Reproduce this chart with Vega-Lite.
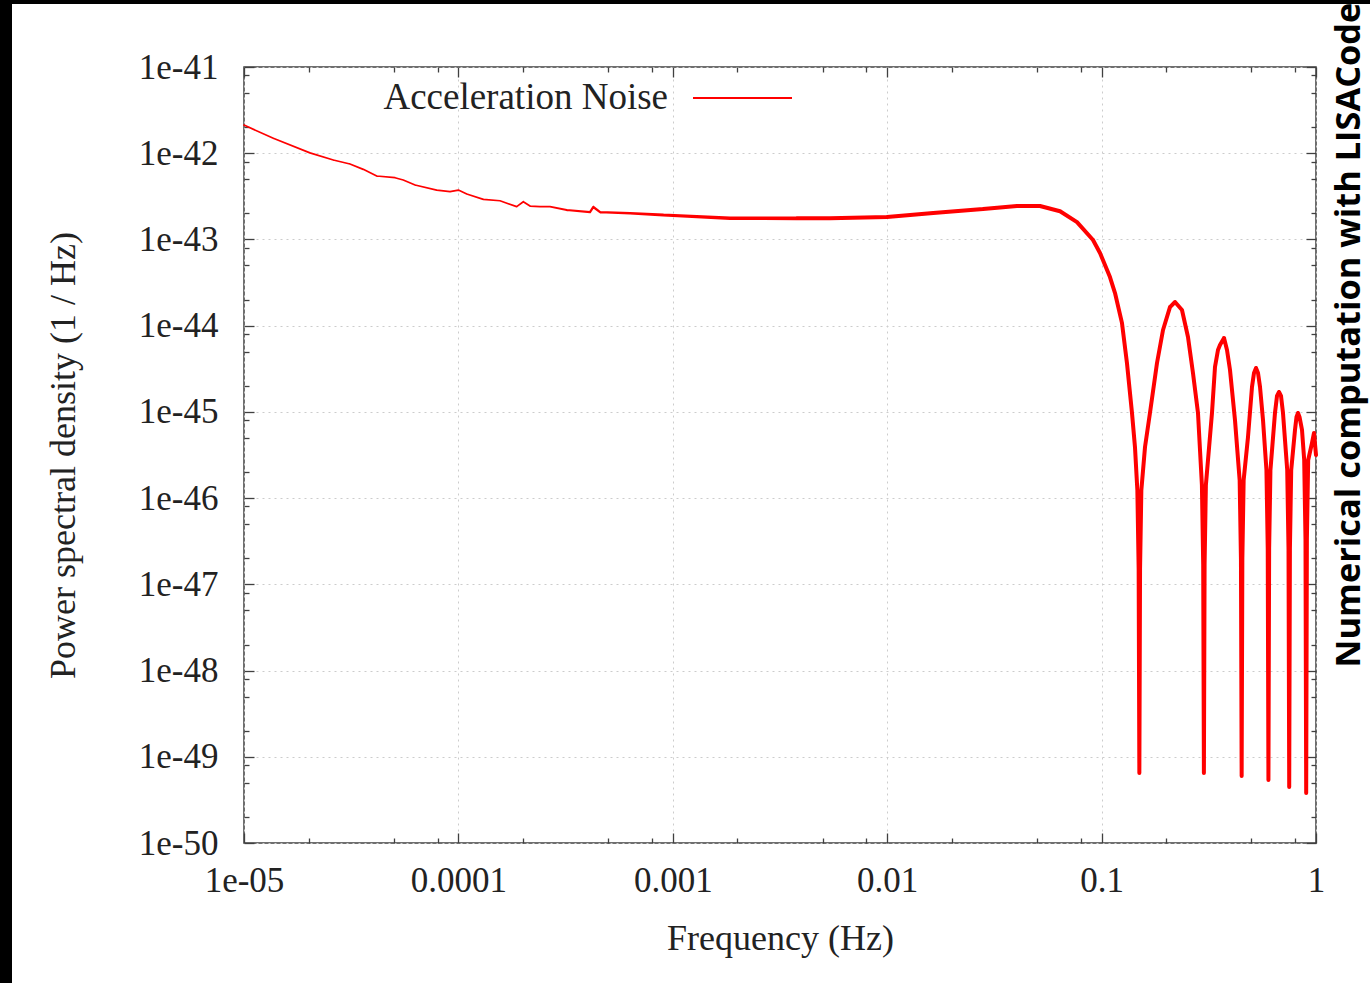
{
  "$schema": "https://vega.github.io/schema/vega-lite/v6.json",
  "padding": 0,
  "background": "white",
  "config": {
    "view": {"stroke": "#404040", "strokeWidth": 1.5},
    "axis": {
      "labelFont": "Liberation Serif",
      "labelFontSize": 35,
      "labelColor": "#222222",
      "titleFont": "Liberation Serif",
      "titleFontSize": 36,
      "titleFontWeight": "normal",
      "titleColor": "#222222",
      "tickColor": "#404040",
      "tickWidth": 1.3,
      "domain": false,
      "labelOverlap": false,
      "labelFlush": false,
      "labelBound": false,
      "gridDash": [2, 4],
      "gridWidth": 1
    }
  },
  "spacing": 0,
  "bounds": "flush",
  "hconcat": [
    {
      "width": 12,
      "height": 983,
      "view": {"fill": "#000000", "stroke": null},
      "data": {"values": []},
      "mark": "rect"
    },
    {
      "spacing": 63,
      "bounds": "flush",
      "vconcat": [
        {
          "width": 1358,
          "height": 4,
          "view": {"fill": "#000000", "stroke": null},
          "data": {"values": []},
          "mark": "rect"
        },
        {
          "spacing": 231,
          "bounds": "flush",
          "hconcat": [
            {
              "width": 1,
              "height": 1,
              "view": {"stroke": null},
              "data": {"values": []},
              "mark": "rect"
            },
            {
              "width": 1072,
              "height": 776,
              "title": {
                "text": "Numerical computation with LISACode",
                "orient": "right",
                "angle": 270,
                "anchor": "middle",
                "align": "center",
                "baseline": "alphabetic",
                "dx": 120,
                "offset": 1,
                "font": "Open Sans",
                "fontSize": 34.4,
                "fontWeight": "bold",
                "color": "#000000"
              },
              "data": {
                "values": [
                  {"f": 1e-5, "psd": 2.12e-42, "series": "Acceleration Noise"},
                  {"f": 1.37e-5, "psd": 1.49e-42, "series": "Acceleration Noise"},
                  {"f": 2.03e-5, "psd": 1.01e-42, "series": "Acceleration Noise"},
                  {"f": 2.61e-5, "psd": 8.34e-43, "series": "Acceleration Noise"},
                  {"f": 3.12e-5, "psd": 7.5e-43, "series": "Acceleration Noise"},
                  {"f": 3.6e-5, "psd": 6.5e-43, "series": "Acceleration Noise"},
                  {"f": 4.16e-5, "psd": 5.44e-43, "series": "Acceleration Noise"},
                  {"f": 5.06e-5, "psd": 5.2e-43, "series": "Acceleration Noise"},
                  {"f": 5.53e-5, "psd": 4.89e-43, "series": "Acceleration Noise"},
                  {"f": 6.28e-5, "psd": 4.28e-43, "series": "Acceleration Noise"},
                  {"f": 7.92e-5, "psd": 3.74e-43, "series": "Acceleration Noise"},
                  {"f": 9.14e-5, "psd": 3.58e-43, "series": "Acceleration Noise"},
                  {"f": 1.0e-4, "psd": 3.74e-43, "series": "Acceleration Noise"},
                  {"f": 1.094e-4, "psd": 3.37e-43, "series": "Acceleration Noise"},
                  {"f": 1.307e-4, "psd": 2.92e-43, "series": "Acceleration Noise"},
                  {"f": 1.563e-4, "psd": 2.81e-43, "series": "Acceleration Noise"},
                  {"f": 1.87e-4, "psd": 2.4e-43, "series": "Acceleration Noise"},
                  {"f": 2.008e-4, "psd": 2.74e-43, "series": "Acceleration Noise"},
                  {"f": 2.158e-4, "psd": 2.44e-43, "series": "Acceleration Noise"},
                  {"f": 2.402e-4, "psd": 2.4e-43, "series": "Acceleration Noise"},
                  {"f": 2.674e-4, "psd": 2.4e-43, "series": "Acceleration Noise"},
                  {"f": 3.2e-4, "psd": 2.19e-43, "series": "Acceleration Noise"},
                  {"f": 4.11e-4, "psd": 2.08e-43, "series": "Acceleration Noise"},
                  {"f": 4.26e-4, "psd": 2.38e-43, "series": "Acceleration Noise"},
                  {"f": 4.58e-4, "psd": 2.07e-43, "series": "Acceleration Noise"},
                  {"f": 6.32e-4, "psd": 2.01e-43, "series": "Acceleration Noise"},
                  {"f": 9.03e-4, "psd": 1.92e-43, "series": "Acceleration Noise"},
                  {"f": 1.293e-3, "psd": 1.84e-43, "series": "Acceleration Noise"},
                  {"f": 1.849e-3, "psd": 1.76e-43, "series": "Acceleration Noise"},
                  {"f": 2.64e-3, "psd": 1.76e-43, "series": "Acceleration Noise"},
                  {"f": 3.78e-3, "psd": 1.76e-43, "series": "Acceleration Noise"},
                  {"f": 5.41e-3, "psd": 1.76e-43, "series": "Acceleration Noise"},
                  {"f": 9.98e-3, "psd": 1.82e-43, "series": "Acceleration Noise"},
                  {"f": 1.64e-2, "psd": 2.03e-43, "series": "Acceleration Noise"},
                  {"f": 2.8e-2, "psd": 2.25e-43, "series": "Acceleration Noise"},
                  {"f": 4.03e-2, "psd": 2.44e-43, "series": "Acceleration Noise"},
                  {"f": 5.16e-2, "psd": 2.44e-43, "series": "Acceleration Noise"},
                  {"f": 6.4e-2, "psd": 2.12e-43, "series": "Acceleration Noise"},
                  {"f": 7.68e-2, "psd": 1.59e-43, "series": "Acceleration Noise"},
                  {"f": 9.12e-2, "psd": 9.86e-44, "series": "Acceleration Noise"},
                  {"f": 9.83e-2, "psd": 6.97e-44, "series": "Acceleration Noise"},
                  {"f": 0.1094, "psd": 3.66e-44, "series": "Acceleration Noise"},
                  {"f": 0.1155, "psd": 2.39e-44, "series": "Acceleration Noise"},
                  {"f": 0.1245, "psd": 1.07e-44, "series": "Acceleration Noise"},
                  {"f": 0.1313, "psd": 3.69e-45, "series": "Acceleration Noise"},
                  {"f": 0.1386, "psd": 9.7e-46, "series": "Acceleration Noise"},
                  {"f": 0.1431, "psd": 3.92e-46, "series": "Acceleration Noise"},
                  {"f": 0.14681, "psd": 1.24e-46, "series": "Acceleration Noise"},
                  {"f": 0.14888, "psd": 1.51e-47, "series": "Acceleration Noise"},
                  {"f": 0.15, "psd": 6.49e-50, "series": "Acceleration Noise"},
                  {"f": 0.15113, "psd": 1.51e-47, "series": "Acceleration Noise"},
                  {"f": 0.15326, "psd": 1.24e-46, "series": "Acceleration Noise"},
                  {"f": 0.1594, "psd": 3.92e-46, "series": "Acceleration Noise"},
                  {"f": 0.1681, "psd": 9.7e-46, "series": "Acceleration Noise"},
                  {"f": 0.1813, "psd": 3.69e-45, "series": "Acceleration Noise"},
                  {"f": 0.1934, "psd": 8.91e-45, "series": "Acceleration Noise"},
                  {"f": 0.2084, "psd": 1.64e-44, "series": "Acceleration Noise"},
                  {"f": 0.22, "psd": 1.88e-44, "series": "Acceleration Noise"},
                  {"f": 0.2371, "psd": 1.52e-44, "series": "Acceleration Noise"},
                  {"f": 0.2529, "psd": 7.38e-45, "series": "Acceleration Noise"},
                  {"f": 0.2668, "psd": 2.82e-45, "series": "Acceleration Noise"},
                  {"f": 0.2816, "psd": 9.7e-46, "series": "Acceleration Noise"},
                  {"f": 0.29363, "psd": 1.42e-46, "series": "Acceleration Noise"},
                  {"f": 0.29775, "psd": 1.72e-47, "series": "Acceleration Noise"},
                  {"f": 0.3, "psd": 6.49e-50, "series": "Acceleration Noise"},
                  {"f": 0.30227, "psd": 1.72e-47, "series": "Acceleration Noise"},
                  {"f": 0.30651, "psd": 1.42e-46, "series": "Acceleration Noise"},
                  {"f": 0.3272, "psd": 9.7e-46, "series": "Acceleration Noise"},
                  {"f": 0.338, "psd": 3.32e-45, "series": "Acceleration Noise"},
                  {"f": 0.349, "psd": 5.22e-45, "series": "Acceleration Noise"},
                  {"f": 0.3566, "psd": 5.97e-45, "series": "Acceleration Noise"},
                  {"f": 0.3724, "psd": 7.19e-45, "series": "Acceleration Noise"},
                  {"f": 0.3845, "psd": 5.22e-45, "series": "Acceleration Noise"},
                  {"f": 0.3971, "psd": 3.06e-45, "series": "Acceleration Noise"},
                  {"f": 0.4189, "psd": 8.05e-46, "series": "Acceleration Noise"},
                  {"f": 0.44044, "psd": 1.62e-46, "series": "Acceleration Noise"},
                  {"f": 0.44663, "psd": 1.97e-47, "series": "Acceleration Noise"},
                  {"f": 0.45, "psd": 5.98e-50, "series": "Acceleration Noise"},
                  {"f": 0.4534, "psd": 1.97e-47, "series": "Acceleration Noise"},
                  {"f": 0.45977, "psd": 1.62e-46, "series": "Acceleration Noise"},
                  {"f": 0.4818, "psd": 5.12e-46, "series": "Acceleration Noise"},
                  {"f": 0.5029, "psd": 1.95e-45, "series": "Acceleration Noise"},
                  {"f": 0.5138, "psd": 2.82e-45, "series": "Acceleration Noise"},
                  {"f": 0.525, "psd": 3.23e-45, "series": "Acceleration Noise"},
                  {"f": 0.5365, "psd": 2.82e-45, "series": "Acceleration Noise"},
                  {"f": 0.5481, "psd": 1.95e-45, "series": "Acceleration Noise"},
                  {"f": 0.566, "psd": 8.05e-46, "series": "Acceleration Noise"},
                  {"f": 0.58725, "psd": 2.12e-46, "series": "Acceleration Noise"},
                  {"f": 0.59551, "psd": 2.57e-47, "series": "Acceleration Noise"},
                  {"f": 0.6, "psd": 5.37e-50, "series": "Acceleration Noise"},
                  {"f": 0.60453, "psd": 2.57e-47, "series": "Acceleration Noise"},
                  {"f": 0.61303, "psd": 2.12e-46, "series": "Acceleration Noise"},
                  {"f": 0.6437, "psd": 9.7e-46, "series": "Acceleration Noise"},
                  {"f": 0.6578, "psd": 1.53e-45, "series": "Acceleration Noise"},
                  {"f": 0.6721, "psd": 1.7e-45, "series": "Acceleration Noise"},
                  {"f": 0.6868, "psd": 1.53e-45, "series": "Acceleration Noise"},
                  {"f": 0.7016, "psd": 9.7e-46, "series": "Acceleration Noise"},
                  {"f": 0.73406, "psd": 2.12e-46, "series": "Acceleration Noise"},
                  {"f": 0.74438, "psd": 2.57e-47, "series": "Acceleration Noise"},
                  {"f": 0.75, "psd": 4.46e-50, "series": "Acceleration Noise"},
                  {"f": 0.75566, "psd": 2.57e-47, "series": "Acceleration Noise"},
                  {"f": 0.76628, "psd": 2.12e-46, "series": "Acceleration Noise"},
                  {"f": 0.798, "psd": 6.17e-46, "series": "Acceleration Noise"},
                  {"f": 0.811, "psd": 8.73e-46, "series": "Acceleration Noise"},
                  {"f": 0.8242, "psd": 9.7e-46, "series": "Acceleration Noise"},
                  {"f": 0.8377, "psd": 8.73e-46, "series": "Acceleration Noise"},
                  {"f": 0.8604, "psd": 6.17e-46, "series": "Acceleration Noise"},
                  {"f": 0.88088, "psd": 2.77e-46, "series": "Acceleration Noise"},
                  {"f": 0.89326, "psd": 3.36e-47, "series": "Acceleration Noise"},
                  {"f": 0.9, "psd": 3.8e-50, "series": "Acceleration Noise"},
                  {"f": 0.9068, "psd": 3.36e-47, "series": "Acceleration Noise"},
                  {"f": 0.91954, "psd": 2.77e-46, "series": "Acceleration Noise"},
                  {"f": 0.958, "psd": 4.36e-46, "series": "Acceleration Noise"},
                  {"f": 0.9787, "psd": 5.69e-46, "series": "Acceleration Noise"},
                  {"f": 1.0, "psd": 3.16e-46, "series": "Acceleration Noise"}
                ]
              },
              "layer": [
                {
                  "mark": {"type": "trail"},
                  "encoding": {
                    "x": {
                      "field": "f",
                      "type": "quantitative",
                      "scale": {"type": "log", "domain": [1e-5, 1], "nice": false},
                      "axis": {
                        "orient": "bottom",
                        "values": [1e-5, 2e-5, 5e-5, 8e-5, 1e-4, 2e-4, 5e-4, 8e-4, 0.001, 0.002, 0.005, 0.008, 0.01, 0.02, 0.05, 0.08, 0.1, 0.2, 0.5, 0.8, 1],
                        "labelExpr": "abs(log(datum.value)/LN10 - round(log(datum.value)/LN10)) < 1e-6 ? (datum.value < 5e-5 ? '1e-05' : format(datum.value, '')) : ''",
                        "tickSize": {"condition": {"test": "abs(log(datum.value)/LN10 - round(log(datum.value)/LN10)) < 1e-6", "value": -10}, "value": -5},
                        "labelPadding": 30,
                        "grid": true,
                        "gridColor": {"condition": {"test": "abs(log(datum.value)/LN10 - round(log(datum.value)/LN10)) < 1e-6", "value": "#cccccc"}, "value": "transparent"},
                        "title": "Frequency (Hz)",
                        "titlePadding": 18
                      }
                    },
                    "y": {
                      "field": "psd",
                      "type": "quantitative",
                      "scale": {"type": "log", "domain": [1e-50, 1e-41], "nice": false},
                      "axis": {
                        "orient": "left",
                        "values": [1e-50, 2e-50, 5e-50, 8e-50, 1e-49, 2e-49, 5e-49, 8e-49, 1e-48, 2e-48, 5e-48, 8e-48, 1e-47, 2e-47, 5e-47, 8e-47, 1e-46, 2e-46, 5e-46, 8e-46, 1e-45, 2e-45, 5e-45, 8e-45, 1e-44, 2e-44, 5e-44, 8e-44, 1e-43, 2e-43, 5e-43, 8e-43, 1e-42, 2e-42, 5e-42, 8e-42, 1e-41],
                        "labelExpr": "abs(log(datum.value)/LN10 - round(log(datum.value)/LN10)) < 1e-6 ? '1e' + round(log(datum.value)/LN10) : ''",
                        "tickSize": {"condition": {"test": "abs(log(datum.value)/LN10 - round(log(datum.value)/LN10)) < 1e-6", "value": -10}, "value": -5},
                        "labelPadding": 36,
                        "grid": true,
                        "gridColor": {"condition": {"test": "abs(log(datum.value)/LN10 - round(log(datum.value)/LN10)) < 1e-6", "value": "#cccccc"}, "value": "transparent"},
                        "title": "Power spectral density (1 / Hz)",
                        "titlePadding": 56
                      }
                    },
                    "color": {
                      "field": "series",
                      "type": "nominal",
                      "scale": {"range": ["#ff0000"]},
                      "legend": {
                        "orient": "none",
                        "legendX": 692,
                        "legendY": 47.5,
                        "title": null,
                        "padding": 0,
                        "symbolType": "stroke",
                        "symbolSize": 9800,
                        "symbolStrokeWidth": 2,
                        "symbolStrokeColor": "#ff0000",
                        "labelFont": "Liberation Serif",
                        "labelFontSize": 37,
                        "labelColor": "#222222",
                        "labelAlign": "right",
                        "labelOffset": -125,
                        "labelLimit": 600
                      }
                    },
                    "size": {
                      "field": "f",
                      "type": "quantitative",
                      "scale": {"type": "log", "domain": [0.0002, 0.004], "range": [1.7, 4], "clamp": true},
                      "legend": null
                    }
                  }
                },
                {
                  "mark": {"type": "line", "strokeOpacity": 0},
                  "encoding": {
                    "x": {
                      "field": "f",
                      "type": "quantitative",
                      "scale": {"type": "log", "domain": [1e-5, 1], "nice": false},
                      "axis": {
                        "orient": "top",
                        "values": [1e-5, 2e-5, 5e-5, 8e-5, 1e-4, 2e-4, 5e-4, 8e-4, 0.001, 0.002, 0.005, 0.008, 0.01, 0.02, 0.05, 0.08, 0.1, 0.2, 0.5, 0.8, 1],
                        "labels": false,
                        "grid": false,
                        "title": null,
                        "tickSize": {"condition": {"test": "abs(log(datum.value)/LN10 - round(log(datum.value)/LN10)) < 1e-6", "value": -10}, "value": -5}
                      }
                    },
                    "y": {
                      "field": "psd",
                      "type": "quantitative",
                      "scale": {"type": "log", "domain": [1e-50, 1e-41], "nice": false},
                      "axis": {
                        "orient": "right",
                        "values": [1e-50, 2e-50, 5e-50, 8e-50, 1e-49, 2e-49, 5e-49, 8e-49, 1e-48, 2e-48, 5e-48, 8e-48, 1e-47, 2e-47, 5e-47, 8e-47, 1e-46, 2e-46, 5e-46, 8e-46, 1e-45, 2e-45, 5e-45, 8e-45, 1e-44, 2e-44, 5e-44, 8e-44, 1e-43, 2e-43, 5e-43, 8e-43, 1e-42, 2e-42, 5e-42, 8e-42, 1e-41],
                        "labels": false,
                        "grid": false,
                        "title": null,
                        "tickSize": {"condition": {"test": "abs(log(datum.value)/LN10 - round(log(datum.value)/LN10)) < 1e-6", "value": -10}, "value": -5}
                      }
                    }
                  }
                }
              ],
              "resolve": {"axis": {"x": "independent", "y": "independent"}}
            }
          ]
        }
      ]
    }
  ]
}
